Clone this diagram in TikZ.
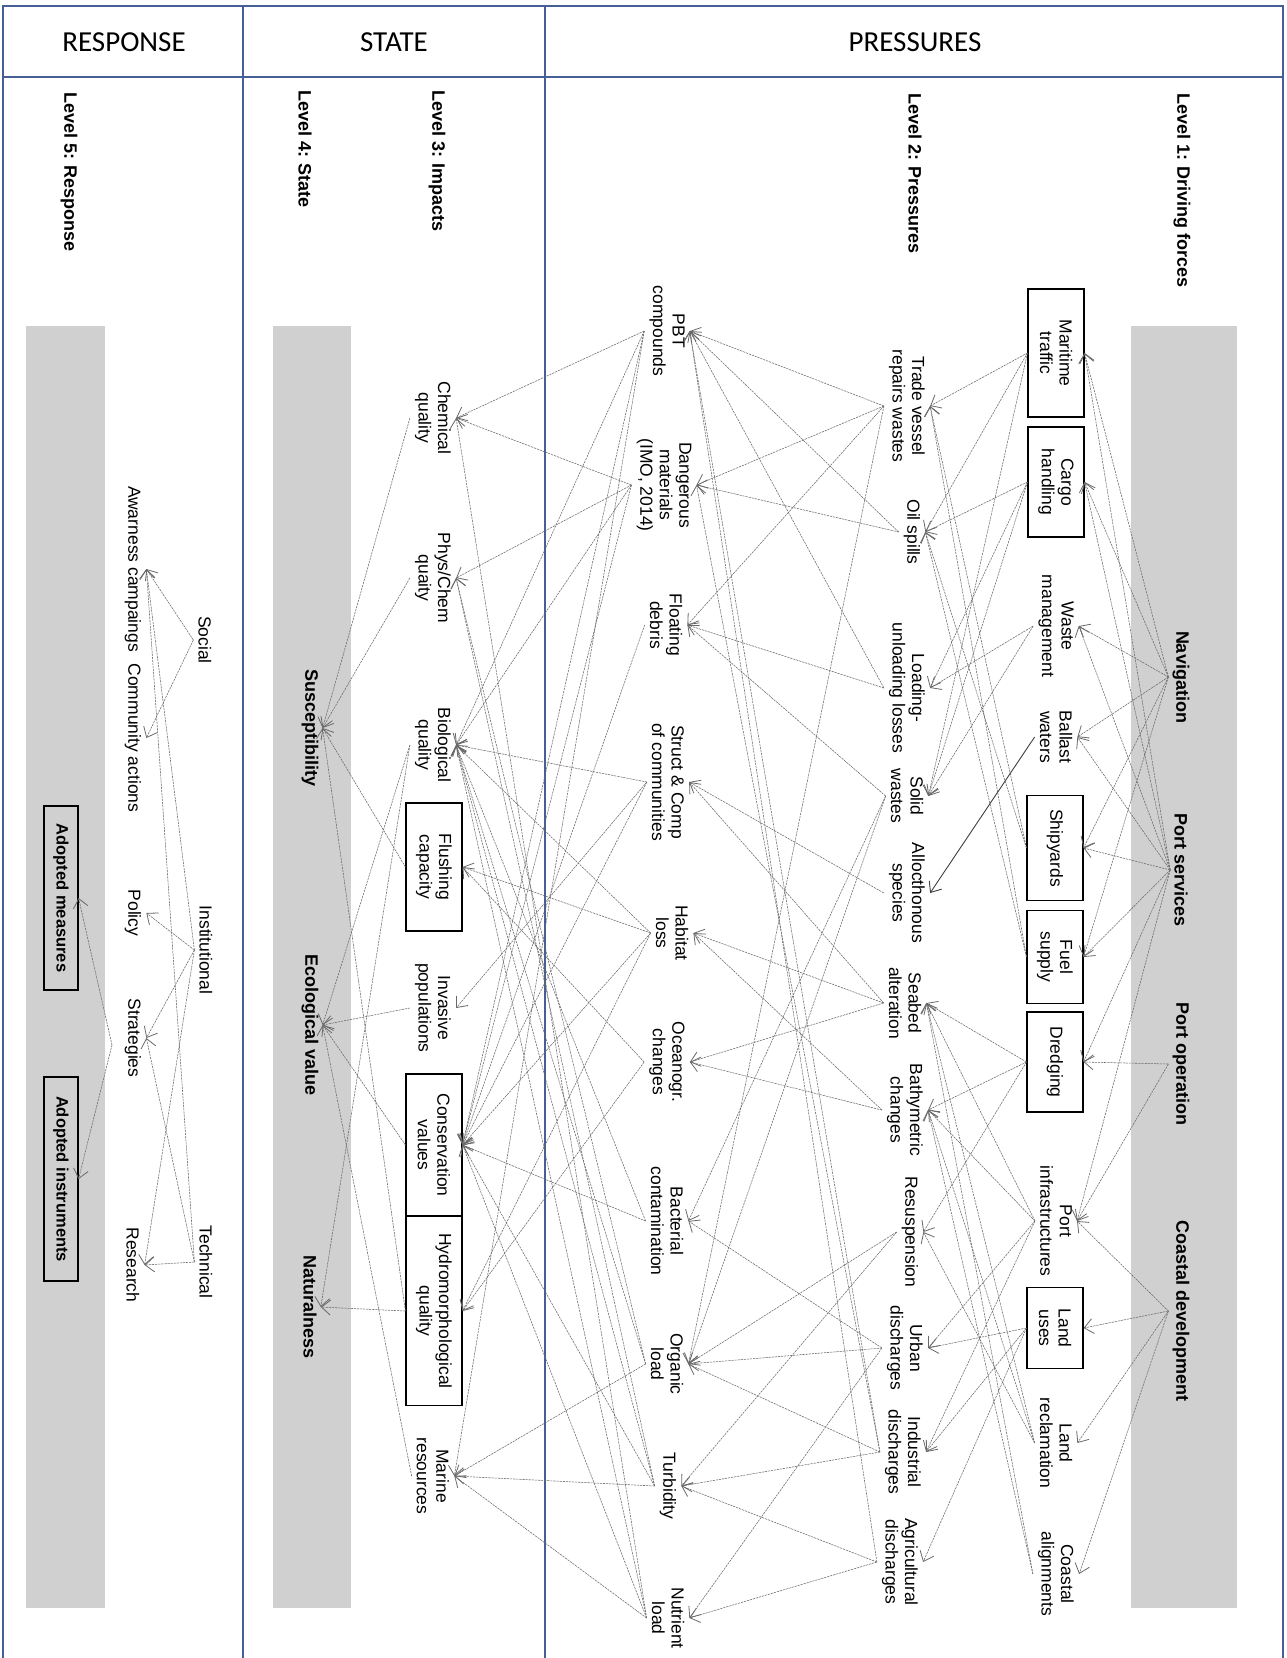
\documentclass[tikz,border=0pt]{standalone}
\usepackage{fontspec}
\setmainfont{Liberation Sans}
\newfontfamily\hdrfont{Carlito}
\usetikzlibrary{arrows.meta}
\definecolor{frame}{RGB}{70,95,150}
\definecolor{bar}{RGB}{208,208,208}
\definecolor{ln}{RGB}{105,105,105}
\tikzset{
 lbl/.style={rotate=-90, font=\fontsize{17.5}{19.5}\selectfont, align=center, inner sep=5pt},
 blbl/.style={rotate=-90, font=\fontsize{18}{20}\selectfont\bfseries, inner sep=4pt},
 bx/.style={lbl, draw=black, line width=1.1pt, inner sep=0pt, minimum height=56pt},
 bbx/.style={rotate=-90, font=\fontsize{16.5}{18}\selectfont\bfseries, draw=black, line width=1.1pt, inner sep=0pt, minimum height=34pt},
 cn/.style={draw=ln, line width=0.55pt, dash pattern=on 2.2pt off 0.9pt, -{Straight Barb[length=9pt,width=15pt,line width=0.8pt]}},
 sol/.style={draw=black!75, line width=0.9pt, -{Straight Barb[length=9pt,width=15pt]}},
 hdr/.style={font=\hdrfont\fontsize{29}{31}\selectfont},
 grp/.style={fill=bar, draw=none},
 frm/.style={draw=frame, line width=1.6pt},
}
\begin{document}
\begin{tikzpicture}[x=1pt,y=-1pt]
\useasboundingbox (0,0) rectangle (1287,1658);
\fill[white] (0,0) rectangle (1287,1658);
% gray bars
\fill[grp] (1131,326) rectangle (1237,1608);
\fill[grp] (273,326) rectangle (351,1608);
\fill[grp] (26,326) rectangle (105,1608);
% frame
\draw[frm] (3,1658) -- (3,6) -- (1283,6) -- (1283,1658);
\draw[frm] (3,77) -- (1283,77);
\draw[frm] (243,6) -- (243,1658);
\draw[frm] (545,6) -- (545,1658);
% headers
\node[hdr] (hR) at (124,42) {RESPONSE};
\node[hdr] (hS) at (394,42) {STATE};
\node[hdr] (hP) at (915,42) {PRESSURES};
% level labels
\node[blbl, anchor=west] (L1) at (1182,89) {Level 1: Driving forces};
\node[blbl, anchor=west] (L2) at (915,89) {Level 2: Pressures};
\node[blbl, anchor=west] (L3) at (437,86) {Level 3: Impacts};
\node[blbl, anchor=west] (L4) at (305,86) {Level 4: State};
\node[blbl, anchor=west] (L5) at (69,88) {Level 5: Response};
% level 1 categories
\node[blbl] (nav) at (1181,677) {Navigation};
\node[blbl] (ps) at (1181,870) {Port services};
\node[blbl] (po) at (1181,1064) {Port operation};
\node[blbl] (cd) at (1181,1311) {Coastal development};
% level 1 items
\node[bx, minimum width=128pt] (mt) at (1056,353) {Maritime\\traffic};
\node[bx, minimum width=110pt] (ch) at (1056,482) {Cargo\\handling};
\node[lbl] (wm) at (1056,626) {Waste\\management};
\node[lbl] (bw) at (1056,737) {Ballast\\waters};
\node[bx, minimum width=105pt] (sy) at (1055,848) {Shipyards};
\node[bx, minimum width=93pt] (fs) at (1055,957) {Fuel\\supply};
\node[bx, minimum width=100pt] (dr) at (1055,1062) {Dredging};
\node[lbl] (pi) at (1056,1221) {Port\\infrastructures};
\node[bx, minimum width=81pt] (lu) at (1055,1328) {Land\\uses};
\node[lbl] (lr) at (1056,1443) {Land\\reclamation};
\node[lbl] (ca) at (1056,1574) {Coastal\\alignments};
% level 2 right column
\node[lbl] (tv) at (907,406) {Trade vessel\\repairs wastes};
\node[lbl] (os) at (912,532) {Oil spills};
\node[lbl] (lul) at (907,688) {Loading-\\unloading losses};
\node[lbl] (sw) at (907,796) {Solid\\wastes};
\node[lbl] (as) at (907,893) {Allocthonous\\species};
\node[lbl] (sa) at (905,1003) {Seabed\\alteration};
\node[lbl] (bc) at (905,1110) {Bathymetric\\changes};
\node[lbl] (rs) at (910,1232) {Resuspension};
\node[lbl] (ud) at (905,1348) {Urban\\discharges};
\node[lbl] (id) at (903,1452) {Industrial\\discharges};
\node[lbl] (ad) at (900,1562) {Agricultural\\discharges};
% level 2 left column
\node[lbl] (pbt) at (667,331) {PBT\\compounds};
\node[lbl] (dm) at (664,485) {Dangerous\\materials\\(IMO, 2014)};
\node[lbl] (fd) at (666,625) {Floating\\debris};
\node[lbl] (scc) at (668,782) {Struct \& Comp\\of communities};
\node[lbl] (hl) at (672,933) {Habitat\\loss};
\node[lbl] (oc) at (667,1062) {Oceanogr.\\changes};
\node[lbl] (bac) at (667,1221) {Bacterial\\contamination};
\node[lbl] (ol) at (667,1364) {Organic\\load};
\node[lbl] (tu) at (668,1486) {Turbidity};
\node[lbl] (nl) at (668,1618) {Nutrient\\load};
% level 3
\node[lbl] (cq) at (433,418) {Chemical\\quality};
\node[lbl] (pcq) at (433,578) {Phys/Chem\\quaity};
\node[lbl] (bq) at (433,745) {Biological\\quality};
\node[bx, minimum width=128pt] (flc) at (434,867) {Flushing\\capacity};
\node[lbl] (ip) at (433,1008) {Invasive\\populations};
\node[bx, minimum width=142pt] (cv) at (434,1145) {Conservation\\values};
\node[bx, minimum width=189pt] (hmq) at (434,1311) {Hydromorphological\\quality};
\node[lbl] (mr) at (433,1476) {Marine\\resources};
% level 4
\node[blbl] (su) at (310,728) {Susceptibility};
\node[blbl] (ev) at (310,1025) {Ecological value};
\node[blbl] (na) at (310,1307) {Naturalness};
% level 5
\node[lbl] (soc) at (205,640) {Social};
\node[lbl] (ins) at (206,950) {Institutional};
\node[lbl] (tec) at (206,1262) {Technical};
\node[lbl] (awc) at (133,569) {Awarness campaings};
\node[lbl] (coa) at (133,738) {Community actions};
\node[lbl] (pol) at (133,913) {Policy};
\node[lbl] (str) at (133,1038) {Strategies};
\node[lbl] (res) at (133,1265) {Research};
\node[bbx, minimum width=184pt] (am) at (61,898) {Adopted measures};
\node[bbx, minimum width=204pt] (ai) at (61,1179) {Adopted instruments};
\coordinate (rsp) at (112,1045);
% connectors: level 1
\foreach \a/\b in {nav/mt, nav/ch, nav/wm, nav/bw, nav/sy, nav/fs,
  ps/mt, ps/ch, ps/wm, ps/bw, ps/sy, ps/fs, ps/dr, ps/pi,
  po/dr, po/pi, cd/pi, cd/lu, cd/lr, cd/ca}
  \draw[cn] (\a.south) -- (\b.north);
% level 1 -> level 2
\foreach \a/\b in {mt/tv, mt/os, mt/sw, ch/os, ch/lul, ch/sw, wm/lul, wm/sw,
  sy/tv, sy/os, fs/tv, fs/os, dr/sa, dr/bc, dr/rs,
  pi/sa, pi/bc, pi/ud, pi/id, lu/ud, lu/id, lu/ad, lr/sa, lr/bc, lr/rs, ca/sa, ca/bc}
  \draw[cn] (\a.south) -- (\b.north);
\draw[sol] (bw.south) -- (as.north);
% level 2 right -> left
\foreach \a/\b in {tv/pbt, tv/dm, tv/fd, tv/ol, os/pbt, os/dm, lul/pbt, lul/fd,
  sw/fd, sw/bac, sw/ol, as/scc, sa/scc, sa/hl, sa/oc, bc/hl, bc/oc,
  rs/ol, rs/tu, ud/bac, ud/ol, ud/nl, id/pbt, id/dm, id/ol, id/tu,
  ad/pbt, ad/tu, ad/nl}
  \draw[cn] (\a.south) -- (\b.north);
% level 2 left -> level 3
\foreach \a/\b in {pbt/cq, pbt/bq, pbt/cv, pbt/mr, dm/cq, dm/pcq, dm/bq, dm/cv,
  fd/cv, scc/bq, scc/ip, scc/cv, hl/bq, hl/flc, hl/hmq, hl/cv, oc/flc, oc/hmq,
  bac/bq, bac/cv, ol/pcq, ol/bq, ol/mr, tu/pcq, tu/bq, tu/cv, tu/mr,
  nl/cq, nl/bq, nl/cv, nl/mr}
  \draw[cn] (\a.south) -- (\b.north);
% level 3 -> level 4
\foreach \a/\b in {cq/su, pcq/su, flc/su, hmq/su, bq/ev, ip/ev, cv/ev, mr/ev, hmq/na, bq/na}
  \draw[cn] (\a.south) -- (\b.north);
% level 5
\foreach \a/\b in {soc/awc, soc/coa, ins/awc, ins/pol, ins/str, ins/res, tec/awc, tec/str, tec/res}
  \draw[cn] (\a.south) -- (\b.north);
\draw[cn] (rsp) -- (am.north);
\draw[cn] (rsp) -- (ai.north);
\end{tikzpicture}
\end{document}
